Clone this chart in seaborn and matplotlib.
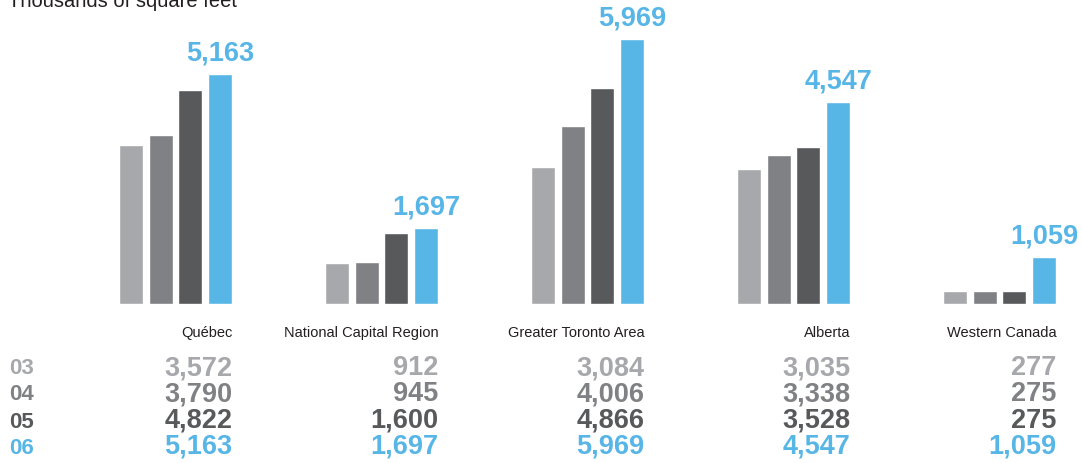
import matplotlib
matplotlib.use("Agg")
import matplotlib.pyplot as plt
import matplotlib.transforms as mtransforms
import seaborn as sns
import pandas as pd

# ---- data ----
regions = ["Québec", "National Capital Region", "Greater Toronto Area", "Alberta", "Western Canada"]
years = ["03", "04", "05", "06"]
v03 = [3572, 912, 3084, 3035, 277]
v04 = [3790, 945, 4006, 3338, 275]
v05 = [4822, 1600, 4866, 3528, 275]
v06 = [5163, 1697, 5969, 4547, 1059]
title = "Thousands of square feet"

colors = {"03": "#a7a8ab", "04": "#808184", "05": "#58595b", "06": "#58b6e7"}
text_dark = "#231f20"

series = {"03": v03, "04": v04, "05": v05, "06": v06}
rows = []
for yr in years:
    for reg, val in zip(regions, series[yr]):
        rows.append({"region": reg, "year": yr, "value": val})
df = pd.DataFrame(rows)

sns.set_theme(style="white")
plt.rcParams["font.family"] = ["Liberation Sans", "DejaVu Sans"]

W, H = 1082, 463
fig = plt.figure(figsize=(W / 100, H / 100), dpi=100)
ax = fig.add_axes([0, 0, 1, 1])

sns.barplot(data=df, x="region", y="value", hue="year", order=regions,
            hue_order=years, palette=colors, width=0.582, gap=0.2,
            saturation=1, legend=False, ax=ax, errorbar=None)

# layout: group centers and baseline in pixels
c0, pitch = 175.5, 206.0
ax.set_xlim(-c0 / pitch, (W - c0) / pitch)
base_px, k = 303.7, 0.0444
ax.set_ylim(-(H - base_px) / k, base_px / k)
ax.axis("off")

trans = mtransforms.blended_transform_factory(ax.transData, fig.transFigure)

def fy(py):
    return 1 - py / H

NUM_FS = 19.5

# value labels above the 06 bars, and right edges for the table
last = ax.containers[3]
rights = []
for bar, val in zip(last.patches, v06):
    cx = bar.get_x() + bar.get_width() / 2
    ax.annotate(f"{val:,}", (cx, bar.get_height()), xytext=(0, 5.5),
                textcoords="offset points", ha="center", va="bottom",
                fontsize=NUM_FS, fontweight="bold", color=colors["06"])
    rights.append(bar.get_x() + bar.get_width())

# category labels
for r, reg in zip(rights, regions):
    ax.text(r, fy(333), reg, transform=trans, ha="right", va="center",
            fontsize=10.5, color=text_dark)

# table
row_y = [368, 394, 421, 447]
for yr, py in zip(years, row_y):
    fig.text(9 / W, fy(py + 1), yr, ha="left", va="center", fontsize=16,
             fontweight="bold", color=colors[yr])
    for r, val in zip(rights, series[yr]):
        ax.text(r, fy(py), f"{val:,}", transform=trans, ha="right", va="center",
                fontsize=NUM_FS, fontweight="bold", color=colors[yr])

fig.text(8 / W, fy(7), title, ha="left", va="baseline", fontsize=14.5, color=text_dark)

fig.savefig("out.png", dpi=100)
